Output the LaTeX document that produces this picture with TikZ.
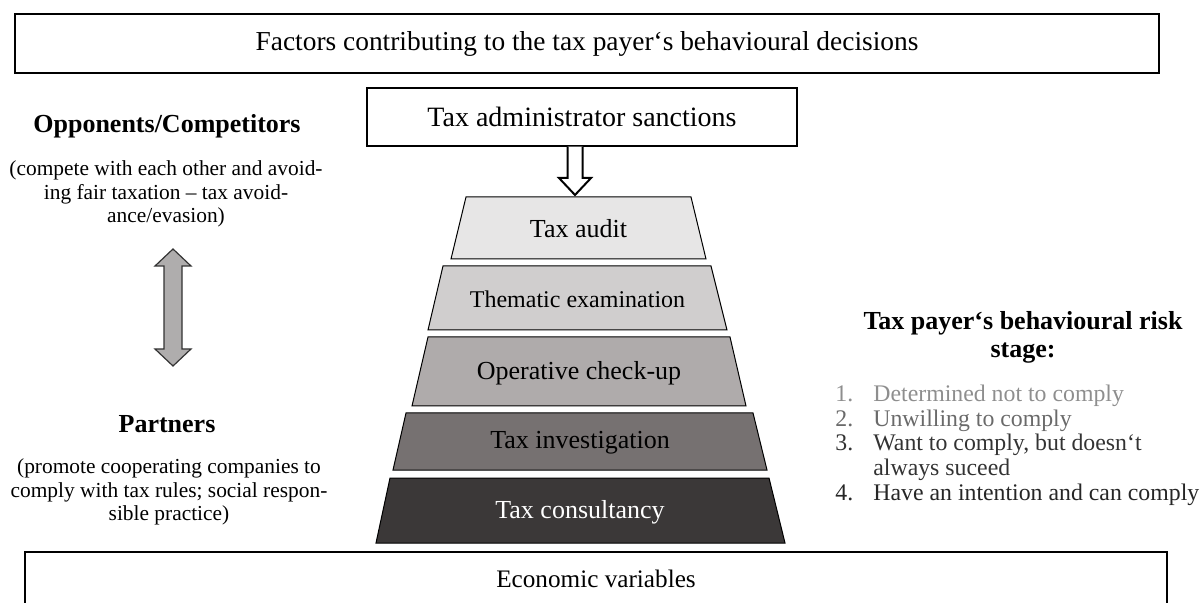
\documentclass[tikz,border=0pt]{standalone}
\usepackage{fontspec}
\setmainfont{Liberation Serif}
\definecolor{audit}{HTML}{E7E6E6}
\definecolor{thema}{HTML}{D0CECE}
\definecolor{oper}{HTML}{AFABAB}
\definecolor{invest}{HTML}{767171}
\definecolor{consult}{HTML}{3B3838}
\definecolor{arrowgray}{HTML}{AFADAD}
\definecolor{riskA}{HTML}{8E8E8E}
\definecolor{riskB}{HTML}{6A6A6A}
\definecolor{riskC}{HTML}{333333}
\definecolor{riskD}{HTML}{262626}
\begin{document}
\begin{tikzpicture}[x=0.5pt,y=-0.5pt,
  framebox/.style={draw=black,line width=1.2pt},
  layer/.style={draw=black,line width=0.5pt},
  ltext/.style={inner sep=0pt,font=\fontsize{13}{15}\selectfont},
  headtext/.style={inner sep=0pt,align=center,font=\fontsize{13}{14}\selectfont\bfseries},
  paratext/.style={inner sep=0pt,align=center,font=\fontsize{10.7}{11.6}\selectfont},
  listtext/.style={inner sep=0pt,anchor=base west,font=\fontsize{11.9}{12}\selectfont},
  hollowarrow/.style={draw=black,line width=1pt,fill=white,line join=miter},
  grayarrow/.style={draw=black!80,line width=0.6pt,fill=arrowgray,line join=miter}]
\useasboundingbox (0,0) rectangle (1203,603);
\clip (0,0) rectangle (1203,603);

% top frame
\node[framebox,minimum width=572pt,minimum height=29.5pt,inner sep=0pt,
  font=\fontsize{13.7}{16}\selectfont] (title) at (587,43.5)
  {Factors contributing to the tax payer‘s behavioural decisions};

% sanctions box
\node[framebox,minimum width=215pt,minimum height=29pt,inner sep=0pt,
  font=\fontsize{14}{16}\selectfont] (sanc) at (582,117)
  {Tax administrator sanctions};

% hollow arrow from sanctions to the pyramid
\draw[hollowarrow] (567.5,146.6) -- (567.5,178) -- (559,178) -- (575,195)
  -- (591,178) -- (582.5,178) -- (582.5,146.6);

% pyramid layers
\path[layer,fill=audit] (466,197) -- (691,197) -- (706,259) -- (451,259) -- cycle;
\node[ltext] (audit) at (578.5,229) {Tax audit};
\path[layer,fill=thema] (443,266) -- (711,266) -- (727,330) -- (428,330) -- cycle;
\node[ltext,font=\fontsize{12}{14}\selectfont] (thema) at (577.5,299) {Thematic examination};
\path[layer,fill=oper] (428,337) -- (730,337) -- (746,406) -- (412,406) -- cycle;
\node[ltext] (oper) at (579,373) {Operative check-up};
\path[layer,fill=invest] (406,413) -- (753,413) -- (767,470) -- (393,470) -- cycle;
\node[ltext] (invest) at (580,443) {Tax investigation};
\path[layer,fill=consult] (390,478) -- (769,478) -- (785,543) -- (376,543) -- cycle;
\node[ltext,text=white] (consult) at (580,512) {Tax consultancy};

% economic variables frame
\draw[framebox] (25,552) rectangle (1167,650);
\node[inner sep=0pt,font=\fontsize{12.6}{14}\selectfont] (econ) at (596,579) {Economic variables};

% left side
\node[headtext] (opp) at (167,126) {Opponents/Competitors};
\node[paratext] (oppdesc) at (166,194)
  {(compete with each other and avoid-\\ing fair taxation – tax avoid-\\ance/evasion)};
\draw[grayarrow] (164,266) -- (155,266) -- (173,249) -- (191,266) -- (182,266)
  -- (182,349) -- (191,349) -- (173,366) -- (155,349) -- (164,349) -- cycle;
\node[headtext] (part) at (167,424) {Partners};
\node[paratext] (partdesc) at (169,492)
  {(promote cooperating companies to\\comply with tax rules; social respon-\\sible practice)};

% right side
\node[headtext] (risk) at (1023,337) {Tax payer‘s behavioural risk\\stage:};
\node[listtext,text=riskA] (n1) at (835,402) {1.};
\node[listtext,text=riskA] (t1) at (873,402) {Determined not to comply};
\node[listtext,text=riskB] (n2) at (835,426.5) {2.};
\node[listtext,text=riskB] (t2) at (873,426.5) {Unwilling to comply};
\node[listtext,text=riskC] (n3) at (835,451) {3.};
\node[listtext,text=riskC] (t3) at (873,451) {Want to comply, but doesn‘t};
\node[listtext,text=riskC] (t3b) at (873,475.5) {always suceed};
\node[listtext,text=riskD] (n4) at (835,500) {4.};
\node[listtext,text=riskD] (t4) at (873,500) {Have an intention and can comply};
\end{tikzpicture}
\end{document}
